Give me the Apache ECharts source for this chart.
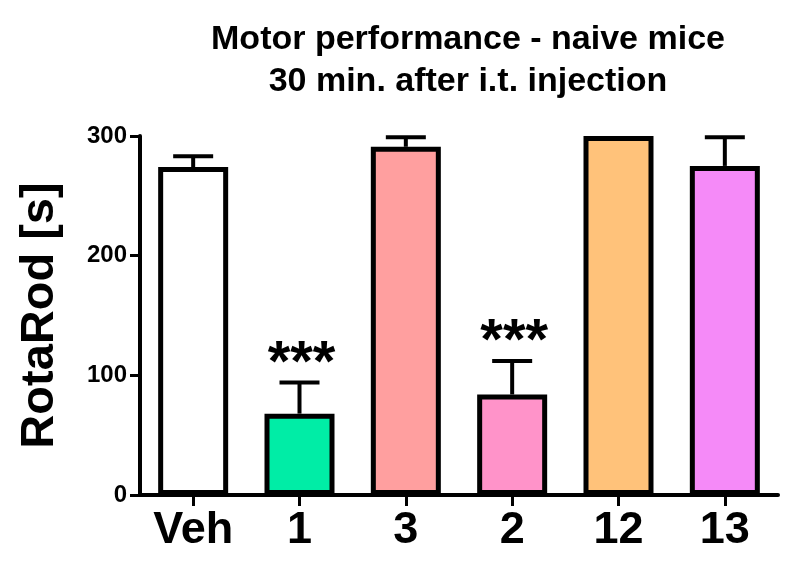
<!DOCTYPE html>
<html><head><meta charset="utf-8">
<script src="https://cdn.jsdelivr.net/npm/echarts@6/dist/echarts.min.js"></script>
<style>html,body{margin:0;padding:0;background:#fff}#c{width:800px;height:568px}</style>
</head><body><div id="c"></div>
<script>
const categories = ['Veh', '1', '3', '2', '12', '13'];
const means = [274, 68, 291, 84, 300, 275];
const sem = [9, 26, 8, 28, 0, 24];
const significance = ['', '***', '', '***', '', ''];
const barColors = ['#FFFFFF', '#00EDA6', '#FF9F9F', '#FF93C9', '#FFC27A', '#F58AF8'];
const titleLines = ['Motor performance - naive mice', '30 min. after i.t. injection'];
const yAxisTitle = 'RotaRod [s]';

const FONT = '"Liberation Sans", Arial, Helvetica, sans-serif';
const chart = echarts.init(document.getElementById('c'), null, {renderer: 'canvas'});

const errData = categories.map((c, i) => [i, means[i], sem[i]]);

chart.setOption({
  animation: false,
  backgroundColor: '#fff',
  title: {
    text: titleLines.join('\n'),
    left: 463, top: 14,
    textAlign: 'center',
    textStyle: {fontFamily: FONT, fontWeight: 'bold', fontSize: 34, lineHeight: 42, color: '#000'}
  },
  grid: {left: 140, right: 22, top: 136, bottom: 73, containLabel: false},
  xAxis: {
    type: 'category',
    data: categories,
    axisLine: {lineStyle: {color: '#000', width: 4}},
    axisTick: {show: true, alignWithLabel: true, length: 11, lineStyle: {color: '#000', width: 3}},
    axisLabel: {fontFamily: FONT, fontWeight: 'bold', fontSize: 45, color: '#000', margin: 13}
  },
  yAxis: {
    type: 'value', min: 0, max: 300, interval: 100,
    name: yAxisTitle, nameLocation: 'middle', nameGap: 76,
    nameTextStyle: {fontFamily: FONT, fontWeight: 'bold', fontSize: 47, color: '#000'},
    axisLine: {show: true, lineStyle: {color: '#000', width: 4}},
    axisTick: {show: true, length: 10, lineStyle: {color: '#000', width: 3}},
    axisLabel: {fontFamily: FONT, fontWeight: 'bold', fontSize: 24, color: '#000', margin: 13},
    splitLine: {show: false}
  },
  series: [
    {
      type: 'bar',
      data: means.map((v, i) => ({value: v, itemStyle: {color: barColors[i]}})),
      barWidth: 70,
      itemStyle: {borderColor: '#000', borderWidth: 5},
      z: 2
    },
    {
      type: 'custom',
      data: errData,
      z: 3,
      renderItem: function (params, api) {
        const i = api.value(0), m = api.value(1), e = api.value(2);
        const sig = significance[i];
        const base = api.coord([i, m]);
        const top = api.coord([i, m + e]);
        const children = [];
        if (e > 0) {
          children.push({type: 'line', shape: {x1: base[0], y1: base[1], x2: top[0], y2: top[1]}, style: {stroke: '#000', lineWidth: 4}});
          children.push({type: 'line', shape: {x1: top[0] - 20, y1: top[1], x2: top[0] + 20, y2: top[1]}, style: {stroke: '#000', lineWidth: 4}});
        }
        if (sig) {
          children.push({type: 'text', x: top[0] + 2, y: top[1] + 11, style: {text: sig, fontFamily: FONT, fontWeight: 'bold', fontSize: 58, fill: '#000', align: 'center', verticalAlign: 'bottom'}});
        }
        return {type: 'group', children: children};
      }
    }
  ]
});
</script></body></html>
